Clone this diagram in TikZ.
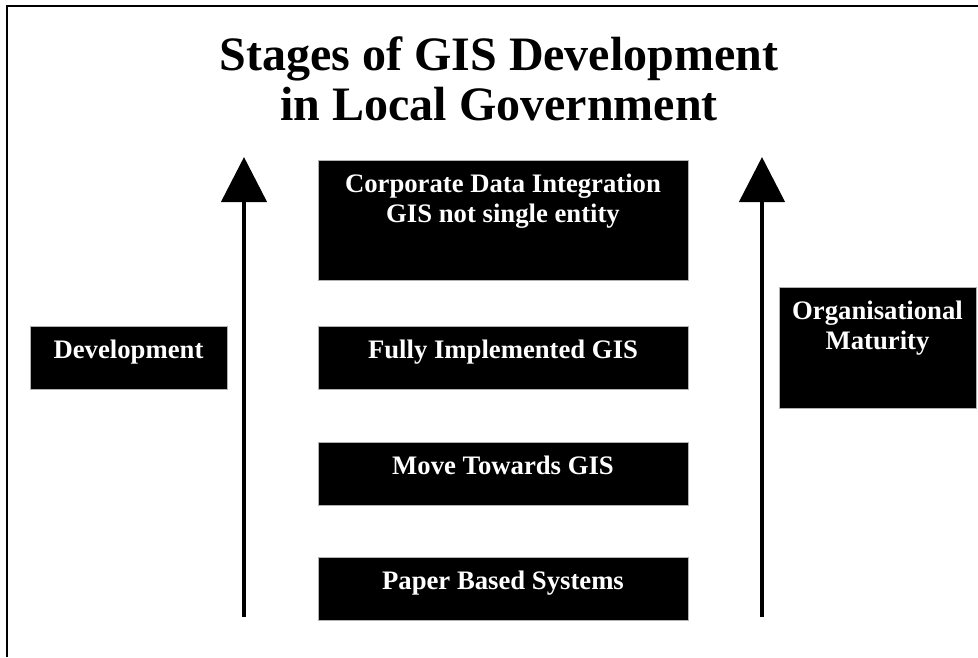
\documentclass[tikz,border=0pt]{standalone}
\usepackage{fontspec}
\setmainfont{Liberation Serif}
\usetikzlibrary{positioning}
\usetikzlibrary{arrows.meta}
\tikzset{x=1pt, y=-1pt,
    node distance=52pt,
    stagebox/.style={
        fill=black,
        draw=gray!60,
        thin,
        text=white,
        font=\bfseries\fontsize{26.7}{30}\selectfont,
        align=center,
        minimum width=370pt,
        inner ysep=14pt,
        text height=18pt,
        text depth=17pt},
    sidebox/.style={
        stagebox,
        minimum width=197pt},
    growth/.style={
        draw,
        line width=4.5pt,
        -{Triangle[width=45pt,length=45pt]}}}

\begin{document}
\begin{tikzpicture}
    \useasboundingbox (0,0) rectangle (978,657);
    % frame
    \draw[line width=2.5pt] (7,657) -- (7,6) -- (978,6);

    \node[font=\bfseries\fontsize{48}{50}\selectfont, align=center, anchor=base] (title) at (499,120) {Stages of GIS Development\\in Local Government};

    % stages
    \node[stagebox, anchor=north, text height=48pt, text depth=44pt] (corp) at (503,160) {Corporate Data Integration\\GIS not single entity};
    \node[stagebox, below=46pt of corp] (full) {Fully Implemented GIS};
    \node[stagebox, below=of full] (move) {Move Towards GIS};
    \node[stagebox, below=of move] (paper) {Paper Based Systems};

    \node[sidebox, anchor=north] (dev) at (128.5,326) {Development};
    \node[sidebox, anchor=north, text height=48pt, text depth=45pt] (maturity) at (877.5,287) {Organisational\\Maturity};

    \coordinate (devbot) at (244,617);
    \coordinate (devtop) at (244,157);
    \coordinate (matbot) at (762,617);
    \coordinate (mattop) at (762,157);
    \draw[growth] (devbot) -- (devtop);
    \draw[growth] (matbot) -- (mattop);
\end{tikzpicture}
\end{document}
